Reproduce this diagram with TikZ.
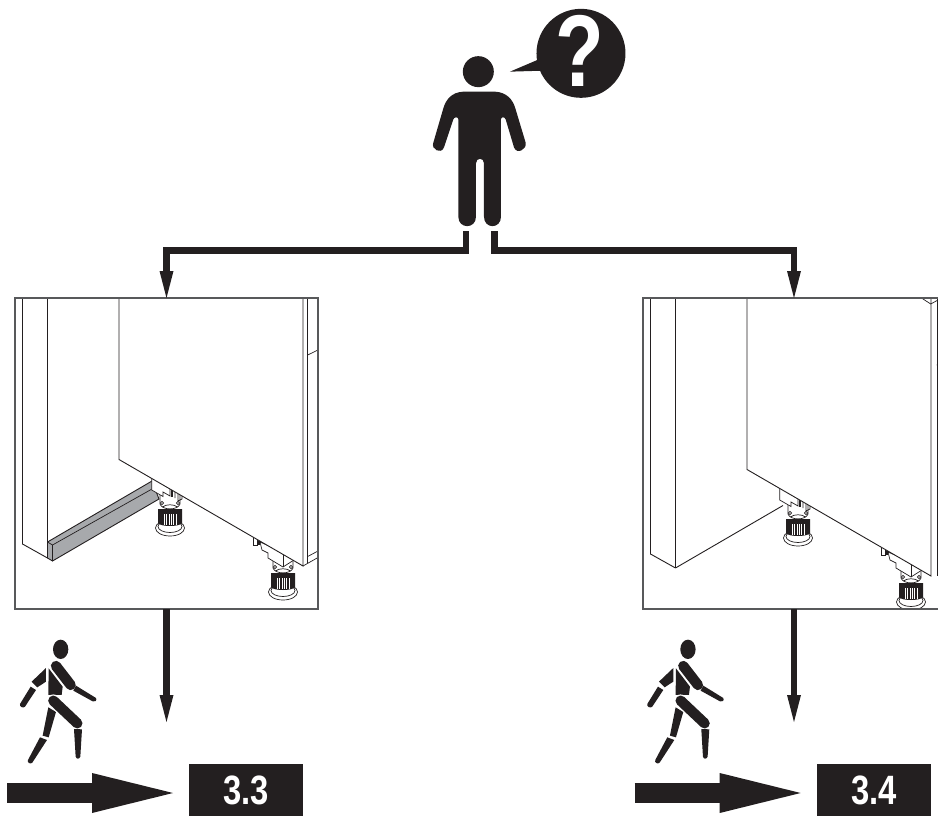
\documentclass[tikz,border=0pt]{standalone}
\usepackage{fontspec}
\usetikzlibrary{arrows.meta}
\setmainfont{Liberation Sans}
\newfontfamily\labelfont[FakeStretch=0.8]{Liberation Sans}
\newfontfamily\queryfont[FakeStretch=0.78]{Liberation Sans}
\definecolor{ink}{HTML}{231F20}
\definecolor{plinth}{HTML}{A7A9AC}
\definecolor{framec}{HTML}{58595B}
\tikzset{
  conn/.style={draw=ink,line width=6.5pt,-{Triangle[length=27pt,width=14pt,line width=0pt]}},
  bigarrow/.style={draw=ink,line width=20pt,-{Triangle[length=81pt,width=40pt,line width=0pt]}},
  panelbox/.style={minimum width=303pt,minimum height=311pt,inner sep=0pt,outer sep=0pt},
  framel/.style={draw=framec,line width=1.5pt},
  edge/.style={draw=ink,line width=0.9pt,line join=miter},
  thin/.style={draw=ink,line width=0.7pt},
  tagbox/.style={fill=ink,minimum width=114pt,minimum height=52pt,inner sep=0pt,outer sep=0pt,text=white,
     font=\labelfont\bfseries\fontsize{41}{41}\selectfont},
}
% adjusting foot, origin at the centre of its base
\newcommand{\cabfoot}[2]{%
 \begin{scope}[shift={(#1,#2)}]
  \fill[white] (-10,-37) rectangle (10,-18);
  \filldraw[fill=white,thin] (0,0) ellipse [x radius=14.5,y radius=8];
  \draw[thin] (0,-1.5) ellipse [x radius=12,y radius=6];
  \fill[ink] (-12,-19) -- (-12,-5) .. controls (-10,-1) and (10,-1) .. (12,-5) -- (12,-19) -- cycle;
  \foreach \s in {-6,-3.6,-1.2,1.2,3.6,6}
    \draw[white,line width=0.55pt] (\s,-14) -- (\s,-3.5);
  \filldraw[fill=white,thin] (-10,-34) -- (-10,-24) .. controls (-8,-17.5) and (8,-17.5) .. (10,-24) -- (10,-34);
  \draw[thin] (-7.5,-21) .. controls (-4,-24) and (4,-24) .. (7.5,-21);
  \draw[thin] (-8,-25) circle [radius=1.6];
  \draw[thin] (8,-25) circle [radius=1.6];
 \end{scope}}
\newcommand{\bracketA}[2]{%
 \begin{scope}[shift={(#1,#2)}]
  \filldraw[fill=white,thin] (-18.3,-52) -- (-18.3,-38) -- (-7,-31.5) -- (-7,-36) -- (0,-32) -- (0,-40) -- cycle;
  \draw[ink,line width=1.3pt] (2,-40) -- (2,-31);
  \draw[thin] (5,-38) -- (5,-30) (8,-34) -- (8,-27) -- (12,-29) -- (12,-36);
 \end{scope}}
\newcommand{\bracketB}[2]{%
 \begin{scope}[shift={(#1,#2)}]
  \filldraw[fill=white,thin] (-23,-50) -- (-21,-42) -- (-15,-39) -- (-15,-34) -- (-10,-31) -- (0,-25) -- (11,-32) -- (0,-40) -- cycle;
  \draw[thin] (0,-25) -- (0,-37);
  \draw[thin] (-30,-55) -- (-30,-47) -- (-26,-47) -- (-26,-52);
  \draw[ink,line width=1.2pt] (-24,-47) -- (-24,-51);
 \end{scope}}
% walking figure, reference zoom coordinates
\newcommand{\walker}[1]{%
 \begin{scope}[shift={(#1,630)},scale=0.3333]
  \fill[ink] (182,58) ellipse [x radius=23,y radius=29];
  \fill[ink] (146,115) -- (145,195) -- (185,195) -- (188,170) -- cycle;
  \fill[ink] (138,114) -- (138,155) -- (112,172) -- (95,155) -- cycle;
  \fill[ink] (92,170) -- (108,180) -- (75,230) .. controls (70,236) and (57,230) .. (60,222) -- cycle;
  \draw[white,line width=1.2pt] (146,112) .. controls (146,85) and (185,80) .. (197,105);
  \draw[white,line width=12.5pt,line cap=round] (168,108) -- (212,165);
  \draw[ink,line width=10.3pt,line cap=round] (168,108) -- (212,165);
  \fill[ink] (228,167) -- (288,204) .. controls (292,212) and (284,218) .. (278,214) -- (220,182) -- cycle;
  \fill[ink] (145,232) -- (168,246) -- (146,322) -- (128,317) -- cycle;
  \draw[white,line width=12.5pt,line cap=round] (160,212) -- (232,280);
  \draw[ink,line width=10.3pt,line cap=round] (160,212) -- (232,280);
  \fill[ink] (222,297) -- (246,298) -- (241,380) .. controls (238,388) and (229,388) .. (227,380) -- cycle;
  \fill[ink] (120,322) -- (141,330) -- (97,398) .. controls (92,404) and (80,398) .. (84,390) -- cycle;
 \end{scope}}
% shared cabinet lines in panel coordinates
\newcommand{\panelcab}{%
  \draw[edge] (22.5,280) -- (22.5,544) -- (47.5,558);
  \draw[edge] (47.5,280) -- (47.5,558);
}
\newcommand{\paneldoor}{%
  \filldraw[fill=white,edge] (119,280) -- (119,459.5) -- (303,566) -- (303,280);
}
\begin{document}
\begin{tikzpicture}[x=1pt,y=-1pt]
\useasboundingbox (0,0) rectangle (938,816);

% asking person
\begin{scope}[shift={(400,0)},scale=0.3333]
  \fill[ink] (235,215) circle [radius=46.5];
  \fill[ink] (190,275) -- (285,275) .. controls (320,277) and (338,298) .. (346,325)
    -- (377,428) .. controls (382,448) and (350,465) .. (342,442)
    -- (317,358) .. controls (314,350) and (303,350) .. (303,358)
    -- (303,650) .. controls (303,688) and (252,688) .. (252,650)
    -- (252,490) .. controls (252,472) and (228,472) .. (228,490)
    -- (228,650) .. controls (228,688) and (175,688) .. (175,650)
    -- (175,358) .. controls (175,350) and (163,350) .. (160,358)
    -- (132,442) .. controls (124,465) and (92,448) .. (100,428)
    -- (130,325) .. controls (138,298) and (155,277) .. (190,275) -- cycle;
  \fill[ink] (543,160) circle [radius=133.5];
  \fill[ink] (412,180) -- (330,215) -- (430,212) -- cycle;
\end{scope}
\node[text=white,inner sep=0pt,font=\queryfont\bfseries\fontsize{102}{102}\selectfont] (query) at (580,50.5) {?};

% panels
\node[panelbox,anchor=north west] (panelL) at (15,298) {};
\node[panelbox,minimum width=295pt,anchor=north west] (panelR) at (643,298) {};

% left scene
\begin{scope}
  \clip (15,298) rectangle (318,609);
  \panelcab
  \filldraw[fill=plinth,edge] (47.5,542) -- (152,481) -- (159,499) -- (52.5,561) -- (47.5,558) -- cycle;
  \draw[thin] (47.5,542) -- (52.5,545) -- (52.5,561);
  \draw[thin] (52.5,545) -- (152,489);
  \cabfoot{170}{528}
  \bracketA{170}{528}
  \cabfoot{283}{592}
  \bracketB{283}{592}
  \paneldoor
  \draw[edge] (307.7,280) -- (307.7,563);
  \draw[thin] (307.7,556.5) -- (318,551) (303,566) -- (318,557.5) (307.7,355) -- (318,350);
\end{scope}
\draw[framel] (panelL.north west) rectangle (panelL.south east);

% right scene
\begin{scope}
  \clip (643,298) rectangle (938,609);
  \begin{scope}[shift={(628,10)}]
    \panelcab
    \draw[edge] (47.5,558) -- (155,495.5);
    \cabfoot{170}{528}
    \bracketA{170}{528}
    \cabfoot{283}{592}
    \bracketB{283}{592}
    \paneldoor
    \draw[edge] (309,280) -- (309,566);
  \end{scope}
  \draw[thin] (921.5,298) -- (930.7,304) -- (938,300);
  \draw[thin] (936.7,365) -- (938,364.5);
\end{scope}
\draw[framel] (panelR.north east) -- (panelR.north west) -- (panelR.south west) -- (panelR.south east);

% connectors from the person
\coordinate (stubL) at (466.2,231);
\coordinate (stubR) at (494.4,231);
\coordinate (inR) at (794,298);
\draw[conn] (stubL) -- (466.2,250.7) -- (panelL.north |- 0,250.7) -- (panelL.north);
\draw[conn] (stubR) -- (494.4,250.7) -- (794,250.7) -- (inR);

% drop arrows
\coordinate (dropL) at (166.5,722);
\coordinate (outR) at (794,609);
\coordinate (dropR) at (794,722);
\draw[conn] (panelL.south) -- (dropL);
\draw[conn] (outR) -- (dropR);

% walkers and big arrows
\walker{0}
\walker{627.3}
\node[tagbox,anchor=north west] (tagL) at (189,764) {\raisebox{-2.5pt}{3.3}};
\node[tagbox,anchor=north west] (tagR) at (817,764) {\raisebox{-2.5pt}{3.4}};
\coordinate (bigLa) at (7,793);
\coordinate (bigLb) at (173,793);
\coordinate (bigRa) at (634.7,793);
\coordinate (bigRb) at (800.7,793);
\draw[bigarrow] (bigLa) -- (bigLb);
\draw[bigarrow] (bigRa) -- (bigRb);
\end{tikzpicture}
\end{document}
